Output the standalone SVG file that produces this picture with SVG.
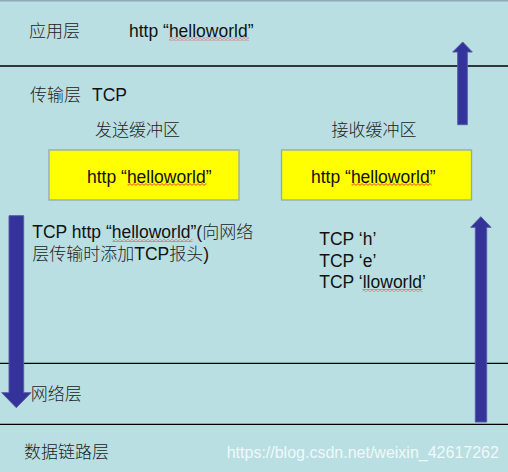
<svg xmlns="http://www.w3.org/2000/svg" width="508" height="472" viewBox="0 0 508 472">
<style>
.t{font-family:"Liberation Sans","Noto Sans CJK SC",sans-serif;font-size:17.5px;fill:#111}
.c{font-family:"Noto Sans CJK SC","Liberation Sans",sans-serif;font-size:17px;fill:#222;font-weight:300}
.m{font-family:"Liberation Sans","Noto Sans CJK SC",sans-serif;font-size:17.5px;fill:#111}
.box{fill:#ffff00;stroke:#8fa9b8;stroke-width:1.3}
.ln{stroke:#000;stroke-width:1.3}
.ar{fill:#333399;stroke:#5a5aa8;stroke-width:1}
.sq{fill:url(#sq)}
</style>
<defs>
<pattern id="sq" width="4" height="3" patternUnits="userSpaceOnUse">
<path d="M0 2.4 L2 0.6 L4 2.4" fill="none" stroke="#e23b3b" stroke-width="0.9"/>
</pattern>
</defs>
<rect x="0" y="0" width="508" height="472" fill="#b9dfe3"/>
<rect x="0" y="0" width="508" height="1.5" fill="#8fa9b8"/>
<g id="layers">
<line class="ln" x1="0" y1="66" x2="508" y2="66"/>
<line class="ln" x1="0" y1="363.3" x2="508" y2="363.3"/>
<line class="ln" x1="0" y1="424.3" x2="508" y2="424.3"/>
</g>
<g id="app-layer">
<text class="c" x="29" y="37">应用层</text>
<text class="t" x="129" y="37">http “helloworld”</text>
<rect class="sq" x="169" y="37.5" width="80" height="3"/>
</g>
<g id="transport-layer">
<text class="c" x="30" y="101">传输层</text>
<text class="t" x="92" y="101">TCP</text>
</g>
<g id="send-buffer">
<text class="c" x="95" y="136">发送缓冲区</text>
<rect class="box" x="49" y="150" width="190" height="50"/>
<text class="t" x="87" y="182.5">http “helloworld”</text>
<rect class="sq" x="127.5" y="183" width="79" height="3"/>
</g>
<g id="recv-buffer">
<text class="c" x="331.5" y="136">接收缓冲区</text>
<rect class="box" x="281.5" y="150" width="190" height="50"/>
<text class="t" x="311" y="182.5">http “helloworld”</text>
<rect class="sq" x="351.5" y="183" width="80" height="3"/>
</g>
<g id="send-note">
<text class="m" x="32.3" y="238">TCP http “helloworld”(<tspan class="c">向网络</tspan></text>
<text class="m" x="32.3" y="260"><tspan class="c">层传输时添加</tspan>TCP<tspan class="c">报头</tspan>)</text>
<rect class="sq" x="112.5" y="239" width="80" height="3"/>
</g>
<g id="recv-note">
<text class="t" x="319.3" y="245">TCP ‘h’</text>
<text class="t" x="319.3" y="266.5">TCP ‘e’</text>
<text class="t" x="319.3" y="288">TCP ‘lloworld’</text>
<rect class="sq" x="362.5" y="289" width="60" height="3"/>
</g>
<g id="network-layer">
<text class="c" x="30.7" y="400">网络层</text>
</g>
<g id="datalink-layer">
<text class="c" x="24" y="458">数据链路层</text>
</g>
<g id="connectors">
<path class="ar" d="M9 215.7 H23.7 V392.7 H31 L16.3 407.7 L1.7 392.7 H9 Z"/>
<path class="ar" d="M457.7 124.7 V52 H452.7 L462.7 42 L472.3 52 H467.3 V124.7 Z"/>
<path class="ar" d="M475.3 422 V227.3 H470.7 L480.8 216.7 L491 227.3 H486.7 V422 Z"/>
</g>
<text x="226.7" y="458" font-family="Liberation Sans, sans-serif" font-size="16" fill="#ffffff" fill-opacity="0.8">https://blog.csdn.net/weixin_42617262</text>
</svg>
